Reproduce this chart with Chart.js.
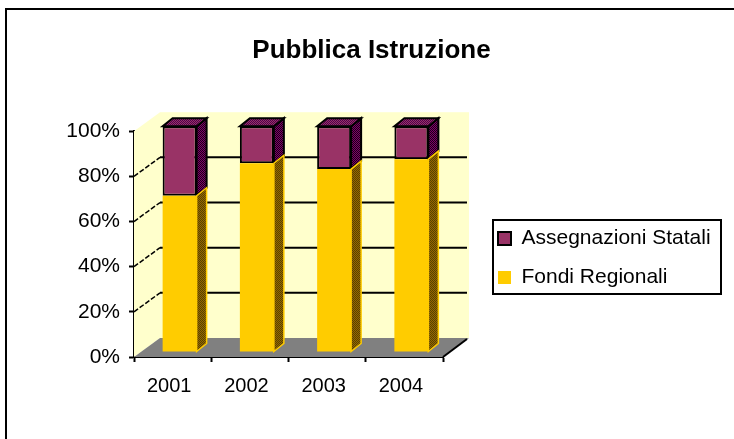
<!DOCTYPE html>
<html>
<head>
<meta charset="utf-8">
<title>Pubblica Istruzione</title>
<script src="https://cdn.jsdelivr.net/npm/chart.js@4/dist/chart.umd.min.js"></script>
<style>
  html, body { margin: 0; padding: 0; background: #fff; overflow: hidden; }
  canvas { display: block; }
</style>
</head>
<body>
<canvas id="chart" width="734" height="439"></canvas>
<script>
const anni = ["2001", "2002", "2003", "2004"];
const fondiRegionali = [69.2, 83.6, 81, 85.4];
const assegnazioniStatali = [30.8, 16.4, 19, 14.6];
const gridValues = [20, 40, 60, 80];

const WALL_DX = 26, WALL_DY = -19;   // shift of the back wall
const BAR_DX = 7, BAR_DY = -5;       // shift of the bars off the axis plane
const SIDE_DX = 10, SIDE_DY = -8;    // depth of each bar

function checker(ctx, a, b) {
  const c = document.createElement("canvas");
  c.width = 2; c.height = 2;
  const g = c.getContext("2d");
  g.fillStyle = a; g.fillRect(0, 0, 2, 2);
  g.fillStyle = b; g.fillRect(0, 0, 1, 1); g.fillRect(1, 1, 1, 1);
  return ctx.createPattern(c, "repeat");
}

function poly(ctx, pts) {
  ctx.beginPath();
  pts.forEach((p, i) => i ? ctx.lineTo(p[0], p[1]) : ctx.moveTo(p[0], p[1]));
  ctx.closePath();
}

const scene3d = {
  id: "scene3d",
  afterLayout(chart) {
    // title is centred over the picture, legend sits right of the plot
    chart.titleBlock.left = 9;
    chart.titleBlock.right = 734;
    const legend = chart.legend;
    legend.left = 480;
    legend.top = 210;
    legend.right = 734;
    legend.bottom = 340;
  },
  beforeDraw(chart) {
    const ctx = chart.ctx;
    ctx.fillStyle = "#000";
    ctx.fillRect(5, 8, 729, 2);
    ctx.fillRect(5, 8, 2, 431);
  },
  beforeDatasetsDraw(chart) {
    const ctx = chart.ctx;
    const a = chart.chartArea;
    const y = chart.scales.y;
    ctx.save();
    ctx.fillStyle = "#FFFFCC";
    ctx.fillRect(a.left + WALL_DX, a.top + WALL_DY, a.right - a.left, a.bottom - a.top);
    poly(ctx, [[a.left, a.top], [a.left + WALL_DX, a.top + WALL_DY], [a.left + WALL_DX, a.bottom + WALL_DY], [a.left, a.bottom]]);
    ctx.fill();
    ctx.fillStyle = "#808080";
    poly(ctx, [[a.left, a.bottom], [a.left + WALL_DX, a.bottom + WALL_DY], [a.right + WALL_DX, a.bottom + WALL_DY], [a.right, a.bottom]]);
    ctx.fill();

    ctx.strokeStyle = "#000";
    gridValues.forEach(v => {
      const py = y.getPixelForValue(v);
      ctx.lineWidth = 2;
      ctx.beginPath();
      ctx.moveTo(a.left + WALL_DX, py + WALL_DY);
      ctx.lineTo(a.right + WALL_DX - 2, py + WALL_DY);
      ctx.stroke();
      ctx.lineWidth = 1.5;
      ctx.setLineDash([5, 2]);
      ctx.beginPath();
      ctx.moveTo(a.left, py);
      ctx.lineTo(a.left + WALL_DX, py + WALL_DY);
      ctx.stroke();
      ctx.setLineDash([]);
    });
    ctx.lineWidth = 2;
    ctx.beginPath();
    ctx.moveTo(a.right, a.bottom);
    ctx.lineTo(a.right + WALL_DX - 2, a.bottom + WALL_DY + 1);
    ctx.stroke();
    ctx.restore();
  },
  beforeDatasetDraw(chart) {
    chart.ctx.save();
    chart.ctx.translate(BAR_DX, BAR_DY);
  },
  afterDatasetDraw(chart, args) {
    const ctx = chart.ctx;
    const isTop = args.index === 1;
    const side = isTop ? checker(ctx, "#800066", "#1a001a") : checker(ctx, "#996600", "#554400");
    const lid = checker(ctx, "#993366", "#4d004d");
    const edge = isTop ? "#000" : "#FFCC00";
    args.meta.data.forEach(bar => {
      const r = bar.x + bar.width / 2;
      const l = bar.x - bar.width / 2;
      ctx.lineWidth = isTop ? 2 : 1.5;
      ctx.strokeStyle = edge;
      ctx.fillStyle = side;
      poly(ctx, [[r, bar.y], [r + SIDE_DX, bar.y + SIDE_DY], [r + SIDE_DX, bar.base + SIDE_DY], [r, bar.base]]);
      ctx.fill();
      ctx.stroke();
      if (isTop) {
        ctx.fillStyle = lid;
        poly(ctx, [[l, bar.y], [l + SIDE_DX, bar.y + SIDE_DY], [r + SIDE_DX, bar.y + SIDE_DY], [r, bar.y]]);
        ctx.fill();
        ctx.stroke();
      }
    });
    ctx.restore();
  },
  afterDraw(chart) {
    const ctx = chart.ctx;
    ctx.save();
    ctx.strokeStyle = "#000";
    ctx.lineWidth = 2;
    ctx.strokeRect(493, 220, 228, 74);
    ctx.restore();
  }
};

Chart.defaults.color = "#000";
Chart.defaults.font.family = "'Liberation Sans', Arial, sans-serif";

new Chart("chart", {
  type: "bar",
  data: {
    labels: anni,
    datasets: [
      {
        label: "Fondi Regionali",
        data: fondiRegionali,
        backgroundColor: "#FFCC00",
        borderColor: "#FFCC00",
        borderWidth: 0,
        borderSkipped: false
      },
      {
        label: "Assegnazioni Statali",
        data: assegnazioniStatali,
        backgroundColor: "#993366",
        borderColor: "#000000",
        borderWidth: 2,
        borderSkipped: false
      }
    ]
  },
  options: {
    responsive: false,
    animation: false,
    layout: { padding: { left: 0, right: 151, top: 0, bottom: 0 } },
    categoryPercentage: 1,
    barPercentage: 0.44,
    plugins: {
      tooltip: { enabled: false },
      title: {
        display: true,
        text: "Pubblica Istruzione",
        font: { size: 26, weight: "bold" },
        padding: { top: 35, bottom: 65 }
      },
      legend: {
        position: "right",
        align: "start",
        maxWidth: 140,
        reverse: true,
        labels: {
          boxWidth: 13,
          boxHeight: 13,
          padding: 18,
          font: { size: 21 }
        }
      }
    },
    scales: {
      x: {
        stacked: true,
        afterFit(s) { s.height = 82; },
        border: { color: "#000", width: 2 },
        grid: { drawOnChartArea: false, tickLength: 5, tickColor: "#000", tickWidth: 2 },
        ticks: { font: { size: 20 }, padding: 12, labelOffset: -3.5, maxRotation: 0 }
      },
      y: {
        stacked: true,
        min: 0,
        max: 100,
        afterFit(s) { s.width = 134; },
        border: { color: "#000", width: 2 },
        grid: { drawOnChartArea: false, tickLength: 5, tickColor: "#000", tickWidth: 2 },
        ticks: {
          stepSize: 20,
          font: { size: 21 },
          padding: 9,
          callback: v => v + "%"
        }
      }
    }
  },
  plugins: [scene3d]
});
</script>
</body>
</html>
